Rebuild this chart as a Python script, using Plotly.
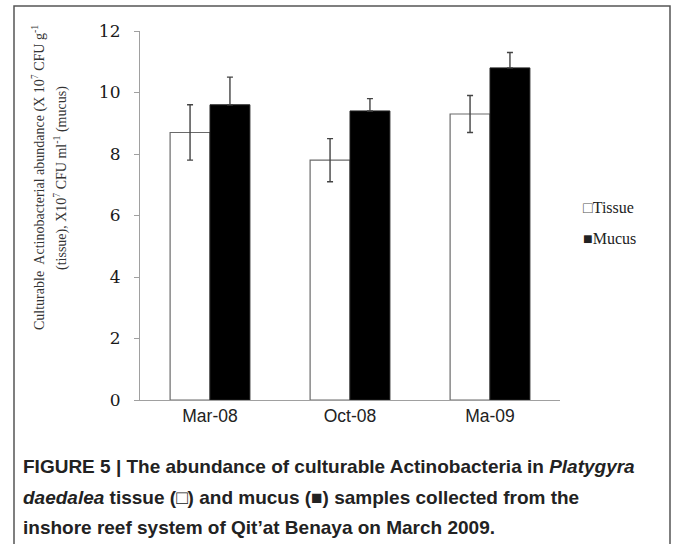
import plotly.graph_objects as go

categories = ["Mar-08", "Oct-08", "Ma-09"]
tissue = [8.7, 7.8, 9.3]
tissue_err = [0.9, 0.7, 0.6]
mucus = [9.6, 9.4, 10.8]
mucus_err = [0.9, 0.4, 0.5]
mucus_err_minus = [0, 0, 0]
series_names = ["Tissue", "Mucus"]
y_ticks = [0, 2, 4, 6, 8, 10, 12]

W, H = 675, 544
L, R, T, B = 140, 115, 31, 144
pw, ph = W - L - R, H - T - B

def px_x(x):
    return (x - L) / pw

def px_y(y):
    return (H - B - y) / ph

fig = go.Figure()
fig.add_trace(go.Bar(
    x=categories, y=tissue, name=series_names[0],
    marker=dict(color="white", line=dict(color="#6a6a6a", width=1.2)),
    error_y=dict(type="data", array=tissue_err, visible=True,
                 color="#444", thickness=1.4, width=3),
    showlegend=False,
))
fig.add_trace(go.Bar(
    x=categories, y=mucus, name=series_names[1],
    marker=dict(color="black", line=dict(color="#222", width=1)),
    error_y=dict(type="data", symmetric=False, array=mucus_err,
                 arrayminus=mucus_err_minus, visible=True,
                 color="#444", thickness=1.4, width=3),
    showlegend=False,
))

serif = "Liberation Serif, Times New Roman, serif"
tick_serif = "DejaVu Serif, Liberation Serif, serif"
sans = "Liberation Sans, Arial, Helvetica, sans-serif"
cap_font = dict(family=sans, size=19, color="#222")
title_font = dict(family=serif, size=14, color="#333")

annotations = [
    dict(text="Culturable  Actinobacterial abundance (X 10<sup>7</sup> CFU g<sup>-1</sup>",
         x=px_x(39), y=px_y(178), xref="paper", yref="paper", textangle=-90,
         showarrow=False, font=title_font, xanchor="center", yanchor="middle"),
    dict(text="(tissue), X10<sup>7</sup> CFU ml<sup>-1</sup> (mucus)",
         x=px_x(61), y=px_y(178), xref="paper", yref="paper", textangle=-90,
         showarrow=False, font=title_font, xanchor="center", yanchor="middle"),
    dict(text="<span style='color:#555'>□</span>" + series_names[0],
         x=px_x(581), y=px_y(208), xref="paper", yref="paper", showarrow=False,
         font=dict(family=serif, size=16, color="#222"), xanchor="left", yanchor="middle"),
    dict(text="■" + series_names[1],
         x=px_x(581), y=px_y(238), xref="paper", yref="paper", showarrow=False,
         font=dict(family=serif, size=16, color="#222"), xanchor="left", yanchor="middle"),
    dict(text="<b>FIGURE 5 | The abundance of culturable Actinobacteria in <i>Platygyra</i></b>",
         x=px_x(21), y=px_y(466), xref="paper", yref="paper", showarrow=False,
         font=cap_font, xanchor="left", yanchor="middle"),
    dict(text="<b><i>daedalea</i> tissue (□) and mucus (■) samples collected from the</b>",
         x=px_x(21), y=px_y(497), xref="paper", yref="paper", showarrow=False,
         font=cap_font, xanchor="left", yanchor="middle"),
    dict(text="<b>inshore reef system of Qit’at Benaya on March 2009.</b>",
         x=px_x(21), y=px_y(527), xref="paper", yref="paper", showarrow=False,
         font=cap_font, xanchor="left", yanchor="middle"),
]

shapes = [
    dict(type="rect", xref="paper", yref="paper",
         x0=px_x(14), x1=px_x(670), y0=px_y(580), y1=px_y(6),
         line=dict(color="#555", width=1.5), fillcolor="rgba(0,0,0,0)", layer="below"),
]

fig.update_layout(
    width=W, height=H,
    margin=dict(l=L, r=R, t=T, b=B, pad=0),
    paper_bgcolor="white", plot_bgcolor="white",
    barmode="group", bargap=0.43, bargroupgap=0,
    annotations=annotations, shapes=shapes,
    xaxis=dict(
        range=[-0.5, 2.5], showline=True, linecolor="#a0a0a0", linewidth=1.2,
        ticks="", showgrid=False, zeroline=False,
        tickfont=dict(family=sans, size=17.5, color="#222"),
    ),
    yaxis=dict(
        range=[0, 12], tickvals=y_ticks, showline=True, linecolor="#a0a0a0", linewidth=1.2,
        ticks="outside", ticklen=5, tickcolor="#a0a0a0", showgrid=False, zeroline=False,
        tickfont=dict(family=tick_serif, size=17, color="#1a1a1a"), ticklabelstandoff=10,
    ),
)

fig.write_html("out.html", config={"displayModeBar": False},
               post_script="document.body.style.margin='0px';document.body.style.overflow='hidden';")
